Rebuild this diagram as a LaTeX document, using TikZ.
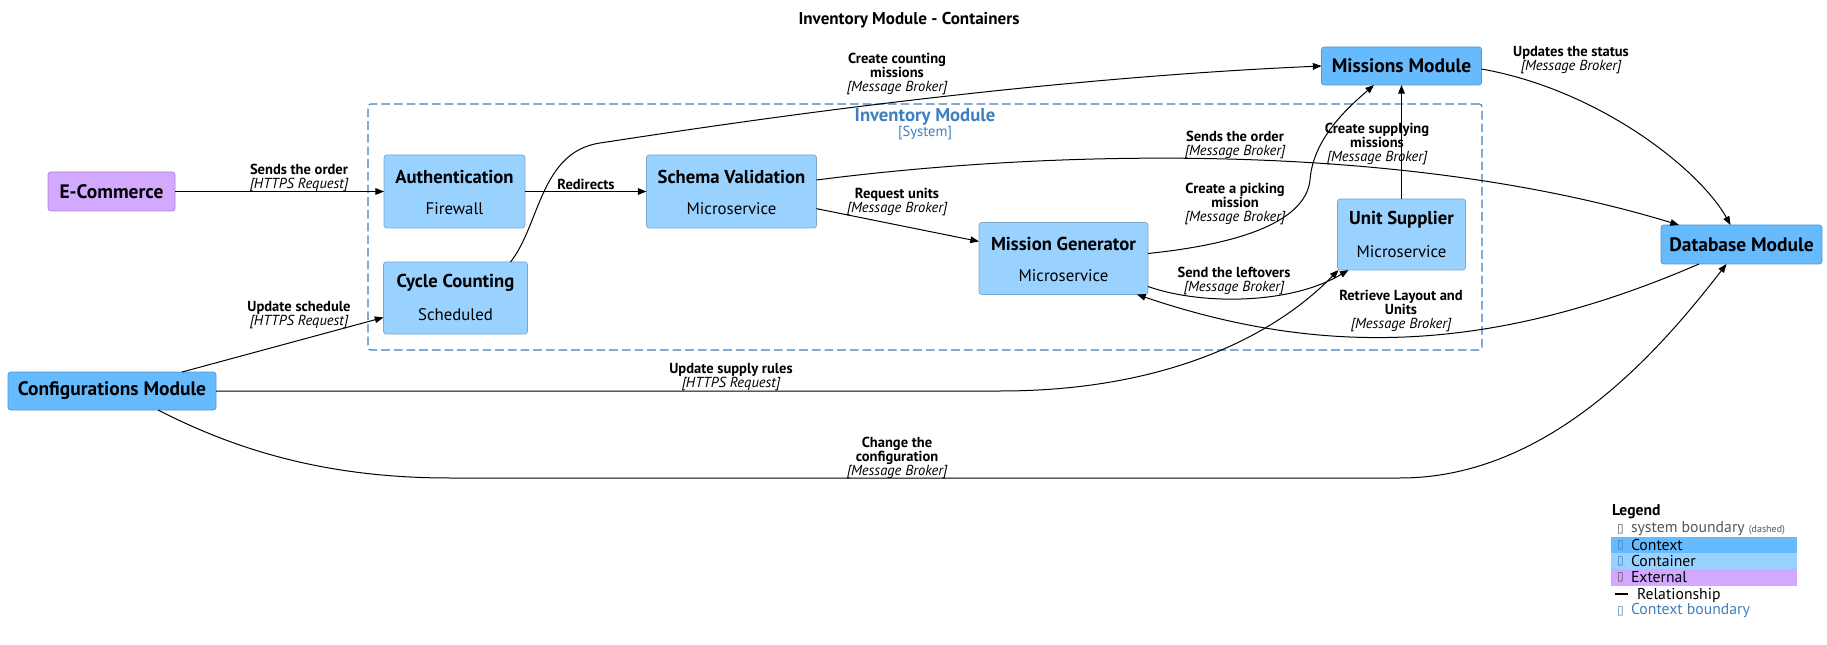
\documentclass[tikz,border=0pt]{standalone}
\usepackage{fontspec}
\setmainfont{PT Sans}
\newfontfamily\symfnt{DejaVu Sans}
\usetikzlibrary{arrows.meta,calc}
\definecolor{ctx}{HTML}{66BBFF}
\definecolor{cnt}{HTML}{99D1FF}
\definecolor{ext}{HTML}{D3A8FF}
\definecolor{bnd}{HTML}{3F7FBF}
\definecolor{lgray}{HTML}{555555}
\newcommand\mytech[1]{\\{\normalfont\itshape[#1]}}
\newcommand\ebox{{\symfnt\fontsize{9}{10}\selectfont\char"25AF}}
\tikzset{
  base/.style={inner sep=0pt, outer sep=0pt},
  sz/.style 2 args={minimum width=#1*0.75pt, minimum height=#2*0.75pt},
  ctxbox/.style={base, draw=ctx!80!black, fill=ctx, rounded corners=2pt, line width=0.5pt, font=\fontsize{14.6}{16}\selectfont\bfseries},
  extbox/.style={base, draw=ext!80!black, fill=ext, rounded corners=2pt, line width=0.5pt, font=\fontsize{14.6}{16}\selectfont\bfseries},
  cntbox/.style={base, draw=cnt!80!black, fill=cnt, rounded corners=2pt, line width=0.5pt},
  cntttl/.style={base, font=\fontsize{14}{16}\selectfont\bfseries},
  cntsub/.style={base, font=\fontsize{12.6}{14}\selectfont},
  lbl/.style={base, align=center, font=\fontsize{10.9}{10.6}\selectfont\bfseries},
  rel/.style={line width=0.75pt, -{Triangle[length=6.5pt,width=5pt]}},
  boundary/.style={base, draw=bnd, dash pattern=on 6.5pt off 3pt, line width=0.85pt, rounded corners=2pt},
  legtxt/.style={base, anchor=west, font=\fontsize{11.8}{13}\selectfont},
}
\begin{document}
\begin{tikzpicture}[x=0.75pt,y=-0.75pt]
\useasboundingbox (0,0) rectangle (1827,645);

% title
\node[base, font=\fontsize{12.8}{14}\selectfont\bfseries] (title) at (909,20) {Inventory Module - Containers};

% system boundary
\node[boundary, sz={1114}{246}] (sys) at (925,227) {};
\node[base, text=bnd, font=\fontsize{14}{16}\selectfont\bfseries] (sysname) at (925,117) {Inventory Module};
\node[base, text=bnd, font=\fontsize{11}{12}\selectfont] (systype) at (925,133) {[System]};

% context / external boxes
\node[extbox, sz={127}{39}] (ecom) at (111.5,191.5) {E-Commerce};
\node[ctxbox, sz={208}{38}] (config) at (112,391) {Configurations Module};
\node[ctxbox, sz={160}{38}] (mm) at (1401.5,66) {Missions Module};
\node[ctxbox, sz={161}{39}] (db) at (1741.5,244.5) {Database Module};

% containers
\node[cntbox, sz={141}{73}] (auth) at (454.5,191.5) {};
\node[cntttl] (authT) at ($(auth.center)+(0,-15)$) {Authentication};
\node[cntsub] (authS) at ($(auth.center)+(0,17)$) {Firewall};

\node[cntbox, sz={170}{73}] (schema) at (731.5,191.5) {};
\node[cntttl] (schemaT) at ($(schema.center)+(0,-15)$) {Schema Validation};
\node[cntsub] (schemaS) at ($(schema.center)+(0,17)$) {Microservice};

\node[cntbox, sz={144}{72}] (cc) at (455.5,298) {};
\node[cntttl] (ccT) at ($(cc.center)+(0,-15)$) {Cycle Counting};
\node[cntsub] (ccS) at ($(cc.center)+(0,17)$) {Scheduled};

\node[cntbox, sz={169}{72}] (mg) at (1063.5,258.5) {};
\node[cntttl] (mgT) at ($(mg.center)+(0,-15)$) {Mission Generator};
\node[cntsub] (mgS) at ($(mg.center)+(0,17)$) {Microservice};

\node[cntbox, sz={128}{71}] (us) at (1401.5,234.5) {};
\node[cntttl] (usT) at ($(us.center)+(0,-15)$) {Unit Supplier};
\node[cntsub] (usS) at ($(us.center)+(0,17)$) {Microservice};

% relationships
\draw[rel] (ecom) -- (auth);
\draw[rel] (auth) -- (schema);
\draw[rel] (schema) -- (mg);
\draw[rel] (config) -- (cc);
\draw[rel] (us) -- (mm);

\draw[rel] ($(schema.east)+(0,-11.5)$) .. controls (1050,150) and (1400,140) .. ($(db.north west)+(18,0)$);
\draw[rel] ($(cc.north east)+(-17,0)$) .. controls (540,225) and (540,152) .. (600,143)
   .. controls (680,131) and (1000,80) .. (mm.west);
\draw[rel] ($(mg.east)+(0,-5)$) .. controls (1230,245) and (1305,225) .. (1310,180)
   .. controls (1313,140) and (1345,110) .. ($(mm.south)+(-27.5,0)$);
\draw[rel] ($(mg.south east)+(0,-8)$) .. controls (1200,305) and (1290,305) .. ($(us.south west)+(11,0)$);
\draw[rel] (config.east) -- (1000,391) .. controls (1160,391) and (1270,340) .. ($(us.south west)+(1,0)$);
\draw[rel] ($(config.south)+(46,0)$) .. controls (240,452) and (330,478) .. (450,478) -- (1400,478)
   .. controls (1550,478) and (1660,350) .. ($(db.south)+(-15,0)$);
\draw[rel] ($(mm.east)+(0,3)$) .. controls (1600,90) and (1700,170) .. ($(db.north)+(-11,0)$);
\draw[rel] ($(db.south west)+(38,0)$) .. controls (1500,350) and (1330,360) .. ($(mg.south east)+(-11,0)$);

% labels
\node[lbl] (l1) at (299,178) {Sends the order\mytech{HTTPS Request}};
\node[lbl] (l2) at (586,184) {Redirects};
\node[lbl] (l3) at (897,202) {Request units\mytech{Message Broker}};
\node[lbl] (l4) at (897,74) {Create counting\\missions\mytech{Message Broker}};
\node[lbl] (l5) at (1235,145) {Sends the order\mytech{Message Broker}};
\node[lbl] (l6) at (1235,204) {Create a picking\\mission\mytech{Message Broker}};
\node[lbl] (l7) at (1377,144) {Create supplying\\missions\mytech{Message Broker}};
\node[lbl] (l8) at (1571,60) {Updates the status\mytech{Message Broker}};
\node[lbl] (l9) at (1234,281) {Send the leftovers\mytech{Message Broker}};
\node[lbl] (l10) at (1401,311) {Retrieve Layout and\\Units\mytech{Message Broker}};
\node[lbl] (l11) at (299,315) {Update schedule\mytech{HTTPS Request}};
\node[lbl] (l12) at (731,377) {Update supply rules\mytech{HTTPS Request}};
\node[lbl] (l13) at (897,458) {Change the\\configuration\mytech{Message Broker}};

% legend
\node[base, anchor=west, font=\fontsize{11.7}{13}\selectfont\bfseries] (legT) at (1612,512) {Legend};
\node[base, anchor=west, text=lgray] (legG1) at (1617,529) {\ebox};
\node[legtxt, text=lgray] (leg1) at (1631,529) {system boundary {\fontsize{7.5}{8}\selectfont(dashed)}};
\fill[ctx] (1611,537) rectangle (1797,553);
\fill[cnt] (1611,553) rectangle (1797,569);
\fill[ext] (1611,569) rectangle (1797,586);
\node[base, anchor=west, text=bnd] (legG2) at (1617,545) {\ebox};
\node[legtxt] (leg2) at (1631,545) {Context};
\node[base, anchor=west, text=bnd] (legG3) at (1617,561) {\ebox};
\node[legtxt] (leg3) at (1631,561) {Container};
\node[base, anchor=west, text=lgray] (legG4) at (1617,577.5) {\ebox};
\node[legtxt] (leg4) at (1631,577.5) {External};
\draw[line width=0.9pt] (1615,594) -- (1628,594);
\node[legtxt] (leg5) at (1637,595) {Relationship};
\node[base, anchor=west, text=bnd] (legG6) at (1617,611) {\ebox};
\node[legtxt, text=bnd] (leg6) at (1631,611) {Context boundary};
\end{tikzpicture}
\end{document}
